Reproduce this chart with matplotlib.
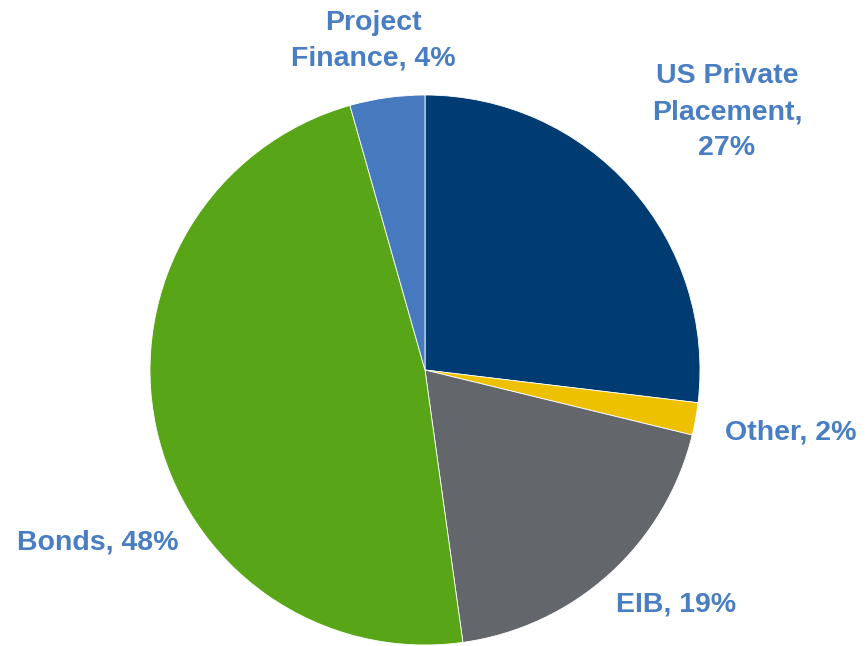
import matplotlib.pyplot as plt

categories = ["US Private\nPlacement,\n27%", "Other, 2%", "EIB, 19%", "Bonds, 48%", "Project\nFinance, 4%"]
values = [26.9, 1.9, 19.0, 47.8, 4.4]
colors = ["#003B71", "#EEC100", "#63666A", "#58A618", "#4779BE"]
label_pos = [(727, 112), (791, 432), (676, 605), (98, 543), (373, 41)]

W, H = 866, 646
fig = plt.figure(figsize=(W / 100, H / 100), dpi=100)
ax = fig.add_axes([0, 0, 1, 1])
ax.set_xlim(0, W)
ax.set_ylim(H, 0)
ax.axis("off")

cx, cy, r = 425, 370, 275
pax = fig.add_axes([(cx - r) / W, (H - cy - r) / H, 2 * r / W, 2 * r / H])
pax.pie(values, colors=colors, startangle=90, counterclock=False,
        wedgeprops=dict(edgecolor="white", linewidth=0.6))
pax.set_aspect("equal")
pax.set_xlim(-1, 1)
pax.set_ylim(-1, 1)
pax.axis("off")

for lab, (x, y) in zip(categories, label_pos):
    ax.text(x, y, lab, ha="center", va="center", fontsize=20.5, fontweight="bold",
            color="#4A7EC2", family="Liberation Sans", linespacing=1.5)

fig.savefig("out.png", dpi=100)
